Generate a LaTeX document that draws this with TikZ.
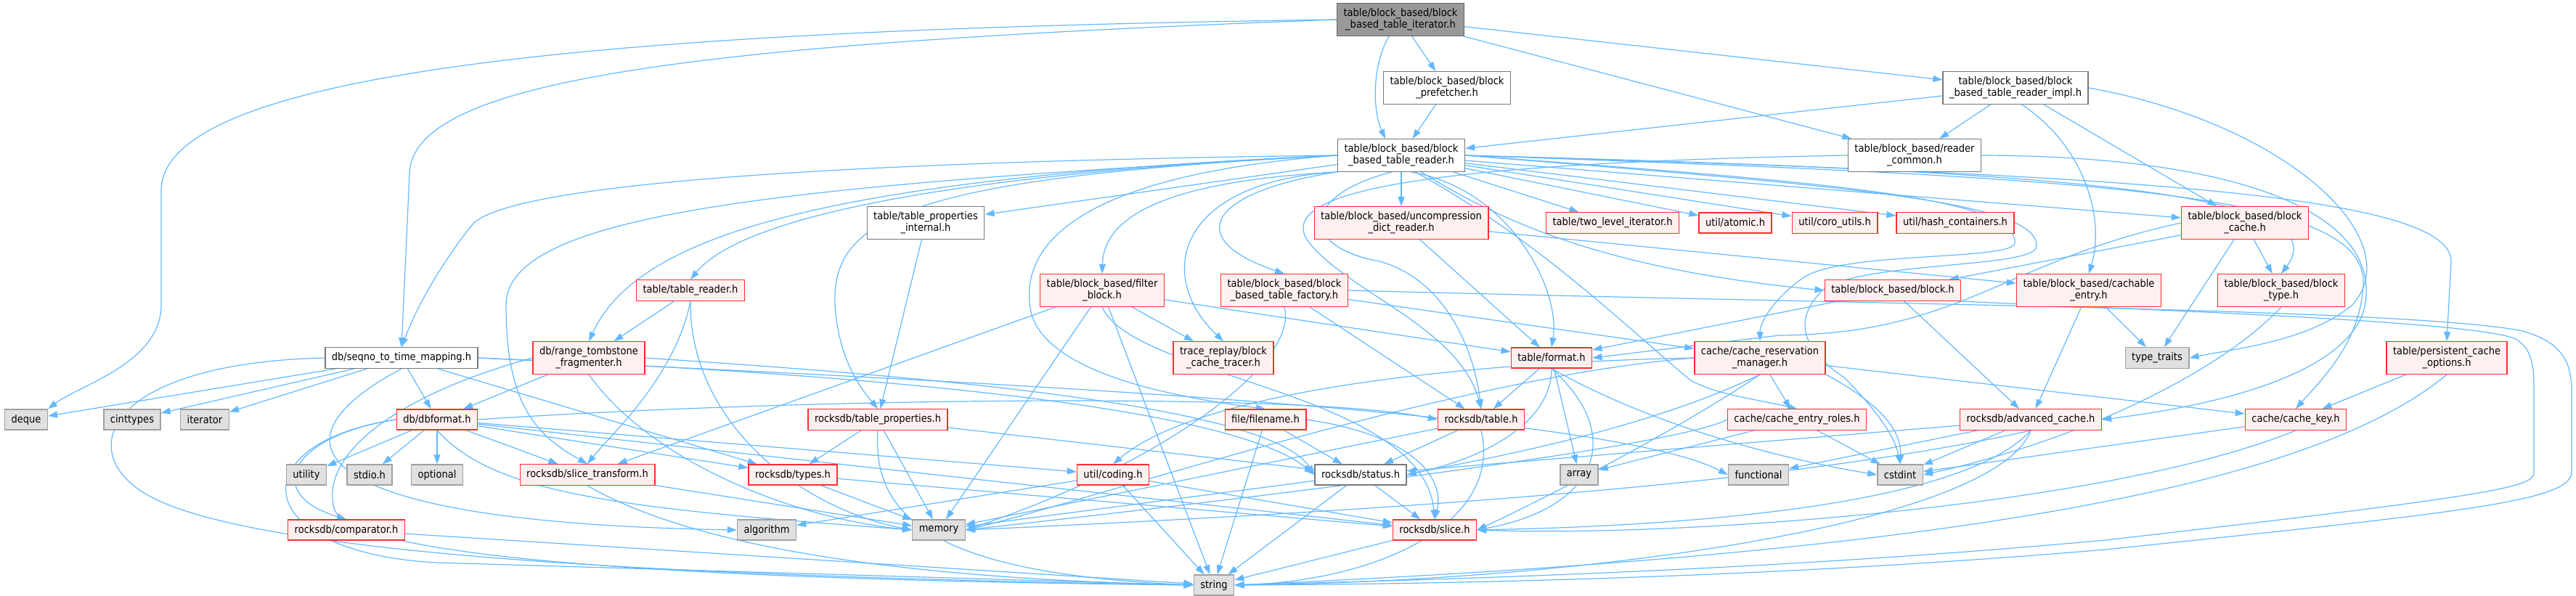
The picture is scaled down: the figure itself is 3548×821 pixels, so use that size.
\documentclass[tikz,border=0pt]{standalone}
\usepackage{fontspec}
\newfontfamily\doxfont{DejaVu Sans Condensed}
\usetikzlibrary{arrows.meta,backgrounds}
\definecolor{incblue}{RGB}{99,184,255}
\definecolor{truncred}{RGB}{255,45,45}
\definecolor{truncfill}{RGB}{255,240,240}
\definecolor{sysfill}{RGB}{224,224,224}
\definecolor{sysline}{RGB}{160,160,160}
\definecolor{hdrline}{RGB}{120,120,120}
\definecolor{selffill}{RGB}{153,153,153}
\definecolor{selfline}{RGB}{102,102,102}
\tikzset{
  file/.style={draw, line width=1.4pt, align=center, inner xsep=9pt, inner ysep=7pt,
    minimum height=28pt, font=\doxfont\fontsize{14.5}{16}\selectfont},
  hdr/.style={file, draw=hdrline, fill=white},
  trunc/.style={file, draw=truncred, fill=truncfill},
  sys/.style={file, draw=sysline, fill=sysfill},
  self/.style={file, draw=selfline, fill=selffill},
  inc/.style={draw=incblue, line width=1.2pt, -{Triangle[length=13pt,width=9pt]}}
}
\begin{document}
\begin{tikzpicture}[x=1pt,y=-1pt]
\useasboundingbox (0,0) rectangle (3548,821);
% the file itself and the headers it pulls in directly
\node[self] (it) at (1929,27) {table/block\_based/block\\\_based\_table\_iterator.h};
\node[hdr] (pf) at (1993,121) {table/block\_based/block\\\_prefetcher.h};
\node[hdr] (impl) at (2776,121) {table/block\_based/block\\\_based\_table\_reader\_impl.h};
\node[hdr] (rd) at (1930,214) {table/block\_based/block\\\_based\_table\_reader.h};
\node[hdr] (rc) at (2637,214) {table/block\_based/reader\\\_common.h};
% third row
\node[hdr] (tpi) at (1275,307) {table/table\_properties\\\_internal.h};
\node[trunc] (udr) at (1930,307) {table/block\_based/uncompression\\\_dict\_reader.h};
\node[trunc] (tli) at (2221,307) {table/two\_level\_iterator.h};
\node[trunc] (atomic) at (2390,307) {util/atomic.h};
\node[trunc] (coro) at (2527,307) {util/coro\_utils.h};
\node[trunc] (hash) at (2693,307) {util/hash\_containers.h};
\node[trunc] (bc) at (3092,307) {table/block\_based/block\\\_cache.h};
% fourth row
\node[trunc] (tr) at (951,400) {table/table\_reader.h};
\node[trunc] (fb) at (1518,400) {table/block\_based/filter\\\_block.h};
\node[trunc] (fac) at (1769,400) {table/block\_based/block\\\_based\_table\_factory.h};
\node[trunc] (blk) at (2607,400) {table/block\_based/block.h};
\node[trunc] (ce) at (2877,400) {table/block\_based/cachable\\\_entry.h};
\node[trunc] (bt) at (3142,400) {table/block\_based/block\\\_type.h};
% fifth row
\node[hdr] (seq) at (553,493) {db/seqno\_to\_time\_mapping.h};
\node[trunc] (rtf) at (811,493) {db/range\_tombstone\\\_fragmenter.h};
\node[trunc] (trace) at (1685,493) {trace\_replay/block\\\_cache\_tracer.h};
\node[trunc] (fmt) at (2137,493) {table/format.h};
\node[trunc] (crm) at (2424,493) {cache/cache\_reservation\\\_manager.h};
\node[sys] (tt) at (2971,493) {type\_traits};
\node[trunc] (pco) at (3370,493) {table/persistent\_cache\\\_options.h};
% sixth row
\node[sys] (deque) at (36,578) {deque};
\node[sys] (cinttypes) at (182,578) {cinttypes};
\node[sys] (iter) at (282,578) {iterator};
\node[trunc] (dbf) at (602,578) {db/dbformat.h};
\node[trunc] (tp) at (1209,578) {rocksdb/table\_properties.h};
\node[trunc] (fn) at (1743,578) {file/filename.h};
\node[trunc] (tbl) at (2040,578) {rocksdb/table.h};
\node[trunc] (cer) at (2475,578) {cache/cache\_entry\_roles.h};
\node[trunc] (ac) at (2797,578) {rocksdb/advanced\_cache.h};
\node[trunc] (ck) at (3162,578) {cache/cache\_key.h};
% seventh row
\node[sys] (utility) at (422,654) {utility};
\node[sys] (stdio) at (509,654) {stdio.h};
\node[sys] (optional) at (602,654) {optional};
\node[trunc] (st) at (809,654) {rocksdb/slice\_transform.h};
\node[trunc] (types) at (1092,654) {rocksdb/types.h};
\node[trunc] (coding) at (1533,654) {util/coding.h};
\node[hdr] (status) at (1874,654) {rocksdb/status.h};
\node[sys] (array) at (2175,654) {array};
\node[sys] (functional) at (2422,654) {functional};
\node[sys] (cstdint) at (2617,654) {cstdint};
% bottom rows
\node[trunc] (cmp) at (477,730) {rocksdb/comparator.h};
\node[sys] (algorithm) at (1056,730) {algorithm};
\node[sys] (memory) at (1293,730) {memory};
\node[trunc] (slice) at (1976,730) {rocksdb/slice.h};
\node[sys] (string) at (1672,806) {string};

\begin{scope}[on background layer]
% straight includes
\foreach \a/\b in {it/pf, pf/rd, it/rc, it/impl, impl/rd, impl/rc, impl/bc,
  rd/tpi, rd/udr, rd/tli, rd/atomic, rd/coro, rd/hash, rd/bc,
  udr/fmt, udr/ce, tr/rtf, tpi/tp, bc/blk, bc/bt, bc/tt,
  blk/fmt, blk/ac, ce/ac, ce/tt, fb/trace, fb/fmt, fb/st, fb/memory, fb/string,
  fac/crm, fac/tbl, fmt/tbl, fmt/array, crm/cer, crm/ck, pco/ck,
  seq/deque, seq/cinttypes, seq/iter, seq/dbf, seq/types, rtf/dbf,
  dbf/utility, dbf/stdio, dbf/optional, dbf/st, dbf/types, dbf/coding, dbf/slice,
  tp/types, tp/memory, tp/status, fn/string, fn/status, tbl/status, tbl/memory,
  cer/array, cer/cstdint, ac/cstdint, ac/functional, ac/status, ck/cstdint,
  st/memory, types/slice, types/memory, coding/algorithm, coding/string, coding/slice,
  status/memory, status/string, status/slice, slice/string, cmp/string}
  \draw[inc] (\a) -- (\b);
% long arcs out of the iterator
\draw[inc] (it.west) .. controls (900,40) and (230,90) .. (222,260) -- (222,420) .. controls (222,500) and (110,530) .. (deque.north east);
\draw[inc] (it.west) .. controls (950,60) and (566,110) .. (564,240) -- (seq.north);
\draw[inc] ([xshift=-16pt]it.south) .. controls (1890,90) and (1890,150) .. ([xshift=-22pt]rd.north);
% reader fanning out
\draw[inc] (rd.west) .. controls (1200,222) and (700,250) .. (650,310) .. controls (610,360) and (575,420) .. (seq.north);
\draw[inc] (rd.west) .. controls (1300,240) and (1020,300) .. (tr.north);
\draw[inc] (rd.west) .. controls (1150,245) and (880,320) .. (rtf.north);
\draw[inc] (rd.west) .. controls (1100,255) and (697,290) .. (697,420) .. controls (697,560) and (740,600) .. (st.north);
\draw[inc] (rd.west) .. controls (1250,245) and (1145,300) .. (1150,420) .. controls (1155,500) and (1190,540) .. (tp.north);
\draw[inc] (rd.south west) .. controls (1600,250) and (1520,300) .. (fb.north);
\draw[inc] (rd.south west) .. controls (1660,265) and (1630,330) .. (fac.north);
\draw[inc] (rd.south west) .. controls (1620,250) and (1590,380) .. (trace.north);
\draw[inc] (rd.west) .. controls (1500,240) and (1400,330) .. (1420,430) .. controls (1440,510) and (1600,545) .. (fn.north);
\draw[inc] (rd.-120) .. controls (1790,270) and (1790,340) .. (1900,360) .. controls (1990,385) and (2030,480) .. (tbl.north);
\draw[inc] (rd.-60) .. controls (2080,260) and (2150,400) .. (fmt.north);
\draw[inc] (rd.-40) .. controls (2060,300) and (2200,370) .. (blk.west);
\draw[inc] (rd.east) .. controls (2800,235) and (3230,260) .. (bt.north);
\draw[inc] (rd.east) .. controls (2900,240) and (3376,265) .. (3376,360) -- (pco.north);
\draw[inc] (rd.east) .. controls (2900,245) and (3258,265) .. (3255,390) .. controls (3252,470) and (3200,520) .. (ck.north);
\draw[inc] (rd.-50) .. controls (2120,330) and (2250,460) .. (2330,525) .. controls (2370,545) and (2420,550) .. (cer.north);
% loops that swing back under hash_containers
\draw[inc] (rd.east) .. controls (2500,250) and (2780,270) .. (2775,335) .. controls (2770,360) and (2530,345) .. (2480,385) .. controls (2440,415) and (2424,445) .. (crm.north);
\draw[inc] (rd.east) .. controls (2520,255) and (2810,275) .. (2805,340) .. controls (2800,370) and (2560,360) .. (2510,400) .. controls (2470,440) and (2480,480) .. (2540,520) .. controls (2580,560) and (2610,600) .. (cstdint.north);
% impl and reader_common
\draw[inc] (impl.-70) .. controls (2870,200) and (2900,300) .. (ce.north);
\draw[inc] (impl.east) .. controls (3150,170) and (3320,330) .. (3240,420) .. controls (3180,470) and (3080,480) .. (tt.east);
\draw[inc] (rc.west) .. controls (1950,225) and (1760,265) .. (1800,330) .. controls (1850,400) and (2010,450) .. (tbl.north);
\draw[inc] (rc.east) .. controls (3100,215) and (3290,300) .. (3255,430) .. controls (3220,530) and (3000,565) .. (ac.east);
% round the right-hand edge down to string
\draw[inc] (fac.east) .. controls (2600,420) and (3300,425) .. (3470,455) .. controls (3530,470) and (3542,500) .. (3542,540) -- (3542,650) .. controls (3542,690) and (3400,705) .. (2900,757) .. controls (2400,800) and (1900,805) .. (string.east);
\draw[inc] (blk.south east) .. controls (2900,425) and (3380,440) .. (3460,465) .. controls (3485,475) and (3490,500) .. (3490,530) -- (3490,650) .. controls (3490,670) and (3460,680) .. (2900,744) .. controls (2400,790) and (1900,800) .. (string.east);
% lower curves
\draw[inc] (bc.west) .. controls (2760,360) and (2700,460) .. (2450,462) -- (fmt.east);
\draw[inc] (bt.south) .. controls (3050,520) and (2850,610) .. (cstdint.east);
\draw[inc] (pco.south) .. controls (3150,700) and (2500,770) .. (string.east);
\draw[inc] (seq.west) .. controls (150,500) and (100,620) .. (200,680) .. controls (350,770) and (1000,795) .. (string.west);
\draw[inc] (seq.south) .. controls (360,610) and (420,720) .. (algorithm.west);
\draw[inc] (seq.east) .. controls (1200,520) and (2200,560) .. (functional.west);
\draw[inc] (seq.east) .. controls (1200,515) and (1700,560) .. (status.west);
\draw[inc] (dbf.west) .. controls (400,600) and (360,680) .. (cmp.north);
\draw[inc] (dbf.west) .. controls (330,610) and (340,760) .. (600,775) -- (string.west);
\draw[inc] (dbf.south) .. controls (680,680) and (850,700) .. (memory.west);
\draw[inc] (dbf.east) .. controls (1100,548) and (1800,540) .. (tbl.west);
\draw[inc] (rtf.west) .. controls (560,540) and (440,620) .. (460,700) .. controls (480,780) and (1100,800) .. (string.west);
\draw[inc] (rtf.south) .. controls (900,640) and (1100,715) .. (memory.west);
\draw[inc] (rtf.east) .. controls (1300,520) and (1750,560) .. (status.west);
\draw[inc] (tr.south) .. controls (949,580) and (1100,700) .. (memory.west);
\draw[inc] (tr.south) .. controls (930,520) and (840,600) .. (st.north);
\draw[inc] (fac.south) .. controls (1790,500) and (1600,640) .. (memory.east);
\draw[inc] (fb.south) .. controls (1560,520) and (1960,540) .. (slice.north);
\draw[inc] (fmt.south) .. controls (2137,580) and (2050,630) .. (status.east);
\draw[inc] (fmt.south) .. controls (2240,600) and (2200,700) .. (slice.east);
\draw[inc] (fmt.south) .. controls (2300,600) and (2500,640) .. (cstdint.west);
\draw[inc] (crm.west) .. controls (2000,520) and (1500,690) .. (memory.east);
\draw[inc] (crm.south) .. controls (2300,600) and (2100,700) .. (slice.east);
\draw[inc] (crm.west) .. controls (2000,500) and (1650,540) .. (coding.north);
\draw[inc] (crm.south) .. controls (2250,600) and (2000,640) .. (status.east);
\draw[inc] (crm.south east) .. controls (2560,540) and (2620,580) .. (cstdint.north);
\draw[inc] (cer.west) .. controls (2300,620) and (1600,700) .. (memory.east);
\draw[inc] (fn.east) .. controls (1950,600) and (1990,660) .. (slice.north);
\draw[inc] (ac.south) .. controls (2500,660) and (2000,700) .. (memory.east);
\draw[inc] (ac.south) .. controls (2700,700) and (2300,725) .. (slice.east);
\draw[inc] (ac.south) .. controls (2750,720) and (2200,800) .. (string.east);
\draw[inc] (ck.south) .. controls (2900,700) and (2300,740) .. (slice.east);
\draw[inc] (tbl.south) .. controls (2070,720) and (1900,800) .. (string.east);
\draw[inc] (st.south) .. controls (1000,780) and (1400,800) .. (string.west);
\draw[inc] (tp.south) .. controls (1200,720) and (1300,790) .. (string.west);
\end{scope}
\end{tikzpicture}
\end{document}
